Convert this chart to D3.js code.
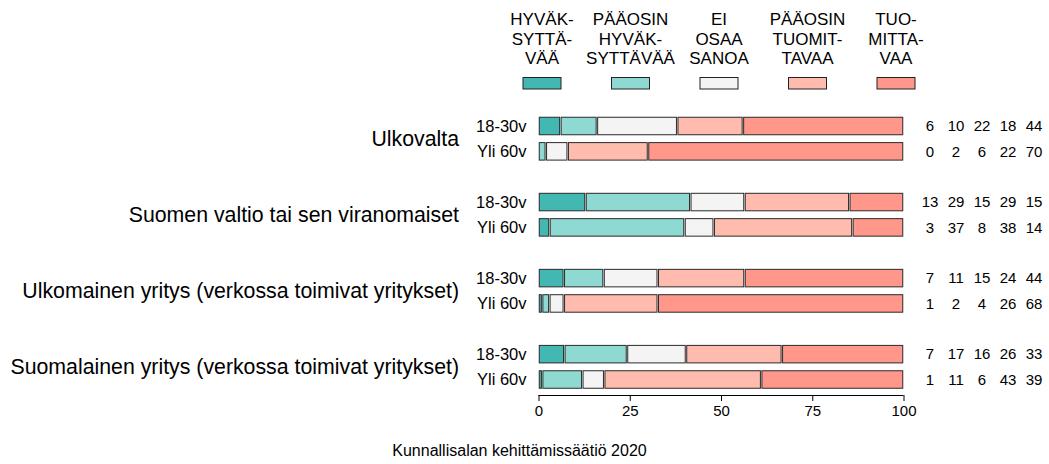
<!DOCTYPE html>
<html>
<head>
<meta charset="utf-8">
<script src="https://cdn.jsdelivr.net/npm/d3@7"></script>
<style>
	body { margin: 0; background: #fff; }
	text { font-family: "Liberation Sans", Arial, sans-serif; fill: #000; }
</style>
</head>
<body>
<script>
// Ryhmät (kysymykset) ja ikäryhmät
const ryhmat = [
	"Ulkovalta",
	"Suomen valtio tai sen viranomaiset",
	"Ulkomainen yritys (verkossa toimivat yritykset)",
	"Suomalainen yritys (verkossa toimivat yritykset)"
];
const ikaryhmat = ["18-30v", "Yli 60v"];

// Vastausvaihtoehdot (legenda, rivitettynä)
const vaihtoehdot = [
	["HYVÄK-", "SYTTÄ-", "VÄÄ"],
	["PÄÄOSIN", "HYVÄK-", "SYTTÄVÄÄ"],
	["EI", "OSAA", "SANOA"],
	["PÄÄOSIN", "TUOMIT-", "TAVAA"],
	["TUO-", "MITTA-", "VAA"]
];
const varit = ["#43b8b3", "#8fd9d3", "#f4f4f4", "#ffbbae", "#ff988a"];

// Prosentit: 18-30v ja yli 60v, ryhmittäin
const nuoret = [
	[6, 10, 22, 18, 44],
	[13, 29, 15, 29, 15],
	[7, 11, 15, 24, 44],
	[7, 17, 16, 26, 33]
];
const vanhat = [
	[0, 2, 6, 22, 70],
	[3, 37, 8, 38, 14],
	[1, 2, 4, 26, 68],
	[1, 11, 6, 43, 39]
];

const akseliTikit = [0, 25, 50, 75, 100];
const lahde = "Kunnallisalan kehittämissäätiö 2020";

const leveys = 1049;
const korkeus = 464;

const svg = d3.select("body")
	.append("svg")
	.attr("width", leveys)
	.attr("height", korkeus);

const x = d3.scaleLinear().domain([0, 100]).range([538.5, 903.5]);
// rivipaikat: kaksi palkkia ryhmää kohden, yksi tyhjä väli ryhmien välissä
const y = d3.scaleLinear().domain([0, 10]).range([126, 379.5]);
const palkinKorkeus = 17.5;

// rivit yhdeksi taulukoksi
let rivit = [];
ryhmat.forEach((r, i) => {
	[nuoret[i], vanhat[i]].forEach((arvot, j) => {
		rivit.push({ ryhma: r, ika: ikaryhmat[j], arvot: arvot, paikka: i * 3 + j });
	});
});

// legenda
const legX = d3.scalePoint().domain(d3.range(5)).range([542, 896]);
const leg = svg.append("g").attr("id", "legenda");

vaihtoehdot.forEach((rivit3, i) => {
	rivit3.forEach((teksti, k) => {
		leg.append("text")
			.attr("x", legX(i))
			.attr("y", 25 + k * 19.5)
			.attr("text-anchor", "middle")
			.style("font-size", "17px")
			.text(teksti);
	});
	leg.append("rect")
		.attr("x", legX(i) - 19)
		.attr("y", 77.5)
		.attr("width", 38)
		.attr("height", 11.5)
		.attr("fill", varit[i])
		.attr("stroke", "#222")
		.attr("stroke-width", 1);
});

// palkit
const palkit = svg.append("g").attr("id", "palkit");

rivit.forEach((rivi) => {
	const summa = d3.sum(rivi.arvot);
	let kertyma = 0;
	const cy = y(rivi.paikka);
	rivi.arvot.forEach((v, i) => {
		const alku = x((kertyma / summa) * 100);
		kertyma += v;
		const loppu = x((kertyma / summa) * 100);
		palkit.append("rect")
			.attr("x", alku + 0.75)
			.attr("y", cy - palkinKorkeus / 2)
			.attr("width", Math.max(0, loppu - alku - 1.5))
			.attr("height", palkinKorkeus)
			.attr("fill", varit[i])
			.attr("stroke", "#2a2a2a")
			.attr("stroke-width", 1);
	});

	// ikäryhmän nimi
	palkit.append("text")
		.attr("x", 526.5)
		.attr("y", cy + 5.6)
		.attr("text-anchor", "end")
		.style("font-size", "16.5px")
		.text(rivi.ika);

	// luvut oikealla
	rivi.arvot.forEach((v, i) => {
		palkit.append("text")
			.attr("x", 930 + i * 26)
			.attr("y", cy + 5.3)
			.attr("text-anchor", "middle")
			.style("font-size", "15px")
			.text(v);
	});
});

// ryhmien nimet
ryhmat.forEach((r, i) => {
	svg.append("text")
		.attr("x", 459)
		.attr("y", (y(i * 3) + y(i * 3 + 1)) / 2 + 7.4)
		.attr("text-anchor", "end")
		.style("font-size", "21.3px")
		.text(r);
});

// x-akseli
const akseli = d3.axisBottom(x)
	.tickValues(akseliTikit)
	.tickSize(6)
	.tickPadding(4);

svg.append("g")
	.attr("transform", "translate(0,395)")
	.call(akseli)
	.call((g) => g.select(".domain").attr("d", `M${x(0)},0.5H${x(100)}`).attr("stroke", "#000"))
	.call((g) => g.selectAll(".tick line").attr("stroke", "#000"))
	.call((g) => g.selectAll(".tick text")
		.style("font-size", "15px")
		.style("font-family", "Liberation Sans, Arial, sans-serif")
		.attr("fill", "#000"));

// lähde
svg.append("text")
	.attr("x", 519.5)
	.attr("y", 456)
	.attr("text-anchor", "middle")
	.style("font-size", "16px")
	.text(lahde);
</script>
</body>
</html>
